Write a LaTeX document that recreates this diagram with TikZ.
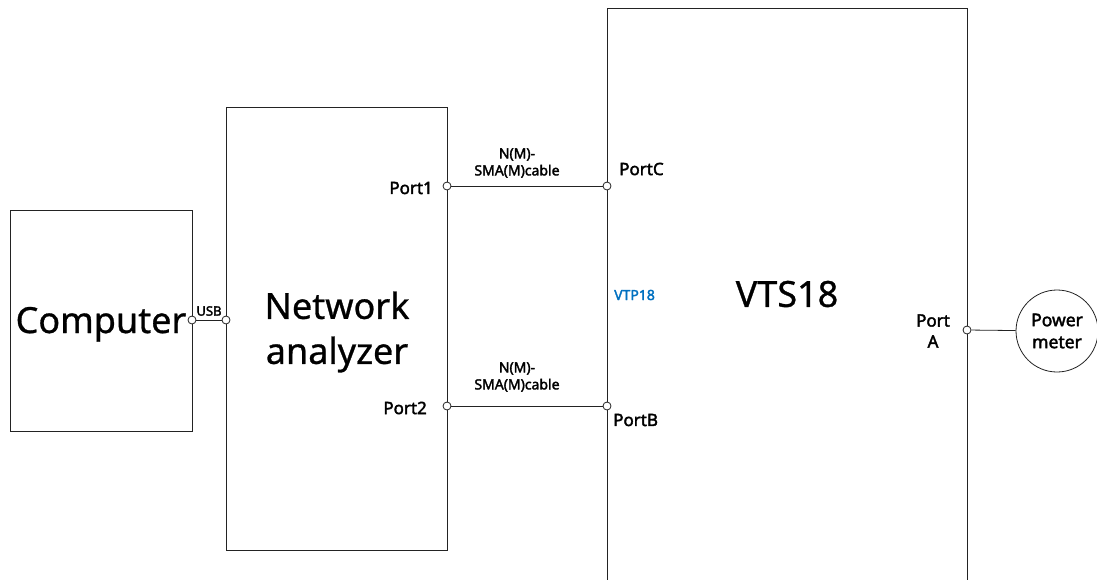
\documentclass[tikz,border=0pt]{standalone}
\usepackage{fontspec}
\setmainfont{Noto Sans}
\newfontfamily\lblfont{Noto Sans}[FakeBold=2.2]
\newfontfamily\bigfont{Noto Sans}[FakeBold=0.8]
\usetikzlibrary{positioning}
\definecolor{lineg}{RGB}{35,35,35}
\definecolor{vtblue}{RGB}{0,112,192}
\tikzset{
  devbox/.style={draw=lineg, line width=0.9pt, inner sep=0pt},
  bigtxt/.style={font=\bigfont\fontsize{36}{45}\selectfont, inner sep=0pt, align=center},
  portdot/.style={draw=lineg, fill=white, circle, line width=0.8pt,
                  inner sep=0pt, minimum size=8pt},
  portlbl/.style={font=\lblfont\fontsize{17}{21}\selectfont, inner sep=0pt, align=center},
  cablelbl/.style={font=\lblfont\fontsize{14}{17}\selectfont, inner sep=0pt, align=center},
  cable/.style={draw=lineg, line width=0.8pt},
}
\begin{document}
\begin{tikzpicture}[x=1pt, y=-1pt]
\clip (0,0) rectangle (1097,579);

% --- devices ---
\node[devbox, minimum width=182pt, minimum height=221pt] (comp) at (101,320.5) {};
\node[bigtxt, anchor=base] (comptxt) at (101,333) {Computer};

\node[devbox, minimum width=221pt, minimum height=443pt] (na) at (336.5,328.5) {};
\node[bigtxt] (natxt) at (337,332) {Network\\analyzer};

\node[devbox, minimum width=360pt, minimum height=592pt] (vts) at (787,304) {};
\node[bigtxt] (vtstxt) at (787,294) {VTS18};
\node[font=\lblfont\fontsize{14}{16}\selectfont, text=vtblue, inner sep=0pt, anchor=west]
  (vtp) at (614,295) {VTP18};

\node[draw=lineg, line width=0.8pt, circle, minimum size=82pt, inner sep=0pt,
      font=\lblfont\fontsize{17.5}{22}\selectfont, align=center] (pm) at (1057,331) {Power\\meter};

% --- ports ---
\node[portdot] (usbL) at (192,320) {};
\node[portdot] (usbR) at (226,320) {};
\node[portdot] (p1) at (447,186) {};
\node[portdot] (p2) at (447,406) {};
\node[portdot] (pc) at (607,186) {};
\node[portdot] (pb) at (607,406) {};
\node[portdot] (pa) at (967,330) {};

% --- cables ---
\draw[cable] (usbL) -- (usbR);
\draw[cable] (p1) -- (pc);
\draw[cable] (p2) -- (pb);
\draw[cable] (pa) -- (pm);

% --- labels ---
\node[font=\lblfont\fontsize{13}{15}\selectfont, inner sep=0pt] (usbtxt) at (209,311) {USB};
\node[portlbl, anchor=east] (p1txt) at (433,188) {Port1};
\node[portlbl, anchor=east] (p2txt) at (427,408) {Port2};
\node[portlbl, anchor=west] (pctxt) at (619,169) {PortC};
\node[portlbl, anchor=west] (pbtxt) at (613,420) {PortB};
\node[portlbl] (patxt) at (933,331) {Port\\A};
\node[cablelbl] (c1txt) at (517,163) {N(M)-\\SMA(M)cable};
\node[cablelbl] (c2txt) at (517,377) {N(M)-\\SMA(M)cable};

\end{tikzpicture}
\end{document}
